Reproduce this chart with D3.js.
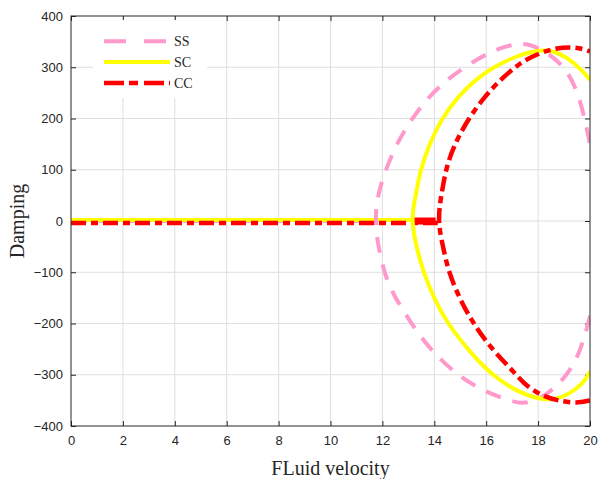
<!DOCTYPE html>
<html>
<head>
<meta charset="utf-8">
<script src="https://cdn.jsdelivr.net/npm/d3@7"></script>
<style>
  body { margin: 0; background: #fff; }
  svg { display: block; }
  .tick text { font-family: "Liberation Sans", Arial, sans-serif; font-size: 13px; fill: #262626; }
</style>
</head>
<body>
<svg width="599" height="479"></svg>
<script>
// critical velocities where damping leaves zero, and the level of each zero line
var critX = { SS: 11.73, SC: 13.13, CC: 14.13 };
var zeroLevel = { SS: 0, SC: 2, CC: -4 };

// branches: [velocity, damping], each starting at the critical point
var ssUpper = [[11.73, 0], [11.78, 40], [12.03, 88], [12.5, 145], [12.87, 178], [13.45, 223], [14.41, 275],
    [15.7, 318], [16.53, 338], [17.11, 345], [17.6, 347], [18.33, 330], [19.1, 298], [19.6, 243], [19.87, 181], [20, 150]];
var ssLower = [[11.73, 0], [11.8, -40], [12.1, -109], [12.5, -150], [12.87, -180], [13.45, -226], [14.35, -278],
    [15.57, -326], [16.98, -352], [17.43, -357], [18.2, -346], [19.1, -304], [19.6, -258], [19.9, -206], [20, -185]];
var scUpper = [[13.13, 0], [13.2, 28], [13.3, 55], [13.47, 100], [13.77, 145], [14.28, 200], [14.92, 243],
    [15.57, 275], [16.27, 300], [17.11, 321], [17.94, 333], [18.46, 334], [19.1, 321], [19.74, 292], [20, 275]];
var scLower = [[13.13, 0], [13.3, -49], [13.58, -100], [14.0, -153], [14.51, -200], [15.28, -250], [16.18, -300],
    [17.27, -335], [17.94, -346], [18.59, -350], [19.23, -337], [19.74, -317], [20, -294]];
var ccUpper = [[14.13, 0], [14.26, 48], [14.44, 100], [14.73, 145], [15.31, 200], [15.95, 243], [16.53, 275],
    [17.11, 300], [17.5, 314], [18.2, 331], [18.97, 340], [19.6, 338], [20, 331]];
var ccLower = [[14.13, 0], [14.33, -49], [14.55, -100], [14.99, -153], [15.5, -200], [16.21, -250], [17.17, -300],
    [17.5, -320], [18.2, -343], [18.97, -353], [19.6, -355], [20, -350]];
var ccZeroSolid = [13.13, 14.05];

var xTicks = d3.range(0, 21, 2);
var yTicks = d3.range(-400, 401, 100);

var series = [
    { name: 'SS', color: '#ff99cc', width: 4, dash: '16,12', legendDash: '22,18', upper: ssUpper, lower: ssLower },
    { name: 'SC', color: '#ffff00', width: 4, dash: null, legendDash: null, upper: scUpper, lower: scLower },
    { name: 'CC', color: '#ff0000', width: 4.5, dash: '15,5,7,5', legendDash: '20,5,9,6', upper: ccUpper, lower: ccLower }
];

var margin = { top: 16, right: 9, bottom: 53, left: 71 };
var svg = d3.select('svg'),
    width = +svg.attr('width') - margin.left - margin.right,
    height = +svg.attr('height') - margin.top - margin.bottom;

var x = d3.scaleLinear().domain([0, 20]).range([0, width]);
var y = d3.scaleLinear().domain([-400, 400]).range([height, 0]);

var g = svg.append('g').attr('transform', 'translate(' + margin.left + ',' + margin.top + ')');

svg.append('defs').append('clipPath').attr('id', 'clip')
    .append('rect').attr('width', width).attr('height', height);

// grid
g.append('g').selectAll('line').data(xTicks.slice(1, -1)).enter().append('line')
    .attr('x1', function (d) { return x(d); }).attr('x2', function (d) { return x(d); })
    .attr('y1', 0).attr('y2', height)
    .attr('stroke', '#dedede').attr('stroke-width', 1);
g.append('g').selectAll('line').data(yTicks.slice(1, -1)).enter().append('line')
    .attr('y1', function (d) { return y(d); }).attr('y2', function (d) { return y(d); })
    .attr('x1', 0).attr('x2', width)
    .attr('stroke', '#dedede').attr('stroke-width', 1);

// axes, MATLAB style ticks inside
function styleAxis(sel) {
    sel.select('.domain').remove();
    sel.selectAll('.tick line').attr('stroke', '#262626');
}
g.append('g').attr('transform', 'translate(0,' + height + ')')
    .call(d3.axisBottom(x).tickValues(xTicks).tickSizeInner(-5).tickSizeOuter(0).tickPadding(10))
    .call(styleAxis);
g.append('g')
    .call(d3.axisLeft(y).tickValues(yTicks).tickSizeInner(-5).tickSizeOuter(0).tickPadding(8))
    .call(styleAxis);
g.append('g')
    .call(d3.axisTop(x).tickValues(xTicks).tickSizeInner(-5).tickSizeOuter(0).tickFormat(''))
    .call(styleAxis);
g.append('g').attr('transform', 'translate(' + width + ',0)')
    .call(d3.axisRight(y).tickValues(yTicks).tickSizeInner(-5).tickSizeOuter(0).tickFormat(''))
    .call(styleAxis);

var line = d3.line()
    .x(function (d) { return x(d[0]); })
    .y(function (d) { return y(d[1]); });
var smooth = d3.line()
    .x(function (d) { return x(d[0]); })
    .y(function (d) { return y(d[1]); })
    .curve(d3.curveBasis);

var plot = g.append('g').attr('clip-path', 'url(#clip)');

// zero (stable) parts first, so the branches sit on top
series.forEach(function (s) {
    var z = zeroLevel[s.name];
    plot.append('path')
        .attr('d', line([[0, z], [critX[s.name], z]]))
        .attr('fill', 'none').attr('stroke', s.color).attr('stroke-width', s.width)
        .attr('stroke-dasharray', s.dash);
});
plot.append('path')
    .attr('d', line([[ccZeroSolid[0], 0], [ccZeroSolid[1], 0]]))
    .attr('fill', 'none').attr('stroke', '#ff0000').attr('stroke-width', 7);

// lower branch run backwards into the upper one, so the turn at the critical point is smooth
series.forEach(function (s) {
    var loop = s.lower.slice().reverse().concat(s.upper.slice(1));
    plot.append('path')
        .attr('d', smooth(loop))
        .attr('fill', 'none').attr('stroke', s.color).attr('stroke-width', s.width)
        .attr('stroke-dasharray', s.dash);
});

// frame
g.append('rect').attr('width', width).attr('height', height)
    .attr('fill', 'none').attr('stroke', '#262626').attr('stroke-width', 1);

// legend
var legend = g.append('g').attr('transform', 'translate(22,4)');
legend.append('rect').attr('width', 114).attr('height', 78).attr('fill', '#fff');
series.forEach(function (s, i) {
    var row = legend.append('g').attr('transform', 'translate(0,' + (21.3 + i * 20.8) + ')');
    row.append('line').attr('x1', 11).attr('x2', 77)
        .attr('stroke', s.color).attr('stroke-width', s.width)
        .attr('stroke-dasharray', s.legendDash);
    row.append('text').attr('x', 81).attr('y', 5)
        .style('font-family', '"Liberation Serif", "Times New Roman", serif')
        .style('font-size', '14px').attr('fill', '#262626')
        .text(s.name);
});

// axis labels
svg.append('text')
    .attr('x', margin.left + width / 2).attr('y', 475)
    .attr('text-anchor', 'middle')
    .style('font-family', '"Liberation Serif", "Times New Roman", serif')
    .style('font-size', '20px').attr('fill', '#262626')
    .text('FLuid velocity');
svg.append('text')
    .attr('transform', 'translate(24,' + (margin.top + height / 2) + ') rotate(-90)')
    .attr('text-anchor', 'middle')
    .style('font-family', '"Liberation Serif", "Times New Roman", serif')
    .style('font-size', '20px').attr('fill', '#262626')
    .text('Damping');
</script>
</body>
</html>
